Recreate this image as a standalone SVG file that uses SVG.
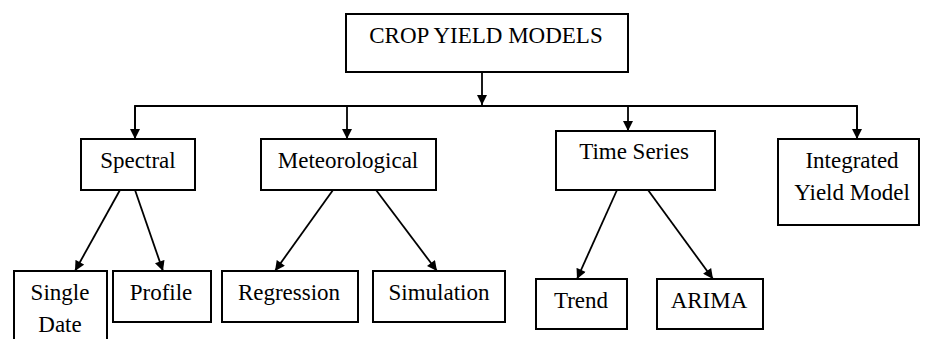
<svg xmlns="http://www.w3.org/2000/svg" width="927" height="339" viewBox="0 0 927 339">
<style>
.box{fill:#fff;stroke:#000;stroke-width:2}
.lbl{font-family:'Liberation Serif','Tinos','DejaVu Serif',serif;font-size:23px;fill:#000;text-anchor:middle}
.edge{fill:none;stroke:#000;stroke-width:1.8}
</style>
<defs>
<marker id="ah" viewBox="0 0 10 10" refX="10" refY="5" markerWidth="11" markerHeight="10" markerUnits="userSpaceOnUse" orient="auto">
<path d="M0,0 L10,5 L0,10 z" fill="#000"/>
</marker>
</defs>
<rect width="927" height="339" fill="#fff"/>
<g id="connectors">
<line class="edge" x1="482" y1="72" x2="482" y2="105" marker-end="url(#ah)"/>
<polyline class="edge" points="135,139 135,106 857,106 857,139"/>
<line class="edge" x1="135" y1="106" x2="135" y2="139" marker-end="url(#ah)"/>
<line class="edge" x1="347" y1="106" x2="347" y2="139" marker-end="url(#ah)"/>
<line class="edge" x1="628" y1="106" x2="628" y2="131" marker-end="url(#ah)"/>
<line class="edge" x1="857" y1="106" x2="857" y2="139" marker-end="url(#ah)"/>
<line class="edge" x1="120" y1="190" x2="75" y2="271" marker-end="url(#ah)"/>
<line class="edge" x1="135" y1="190" x2="163" y2="271" marker-end="url(#ah)"/>
<line class="edge" x1="333" y1="190" x2="275" y2="271" marker-end="url(#ah)"/>
<line class="edge" x1="376" y1="190" x2="437" y2="271" marker-end="url(#ah)"/>
<line class="edge" x1="617" y1="190" x2="577" y2="279" marker-end="url(#ah)"/>
<line class="edge" x1="648" y1="190" x2="713" y2="279" marker-end="url(#ah)"/>
</g>
<g id="crop-yield-models"><rect class="box" x="346" y="14" width="282" height="58"/><text class="lbl" x="486" y="43">CROP YIELD MODELS</text></g>
<g id="spectral"><rect class="box" x="81" y="139" width="114" height="51"/><text class="lbl" x="138" y="168">Spectral</text></g>
<g id="meteorological"><rect class="box" x="261" y="139" width="175" height="51"/><text class="lbl" x="348" y="168">Meteorological</text></g>
<g id="time-series"><rect class="box" x="556" y="131" width="159" height="59"/><text class="lbl" x="634" y="159">Time Series</text></g>
<g id="integrated"><rect class="box" x="778" y="139" width="141" height="86"/><text class="lbl" x="852" y="168">Integrated</text><text class="lbl" x="852" y="200">Yield Model</text></g>
<g id="single-date"><rect class="box" x="14" y="271" width="93" height="80"/><text class="lbl" x="60" y="300">Single</text><text class="lbl" x="60" y="332">Date</text></g>
<g id="profile"><rect class="box" x="113" y="271" width="98" height="51"/><text class="lbl" x="161" y="300">Profile</text></g>
<g id="regression"><rect class="box" x="222" y="271" width="136" height="51"/><text class="lbl" x="289" y="300">Regression</text></g>
<g id="simulation"><rect class="box" x="373" y="271" width="132" height="51"/><text class="lbl" x="439" y="300">Simulation</text></g>
<g id="trend"><rect class="box" x="536" y="279" width="91" height="50"/><text class="lbl" x="581" y="308">Trend</text></g>
<g id="arima"><rect class="box" x="657" y="279" width="106" height="50"/><text class="lbl" x="709" y="308">ARIMA</text></g>
</svg>
